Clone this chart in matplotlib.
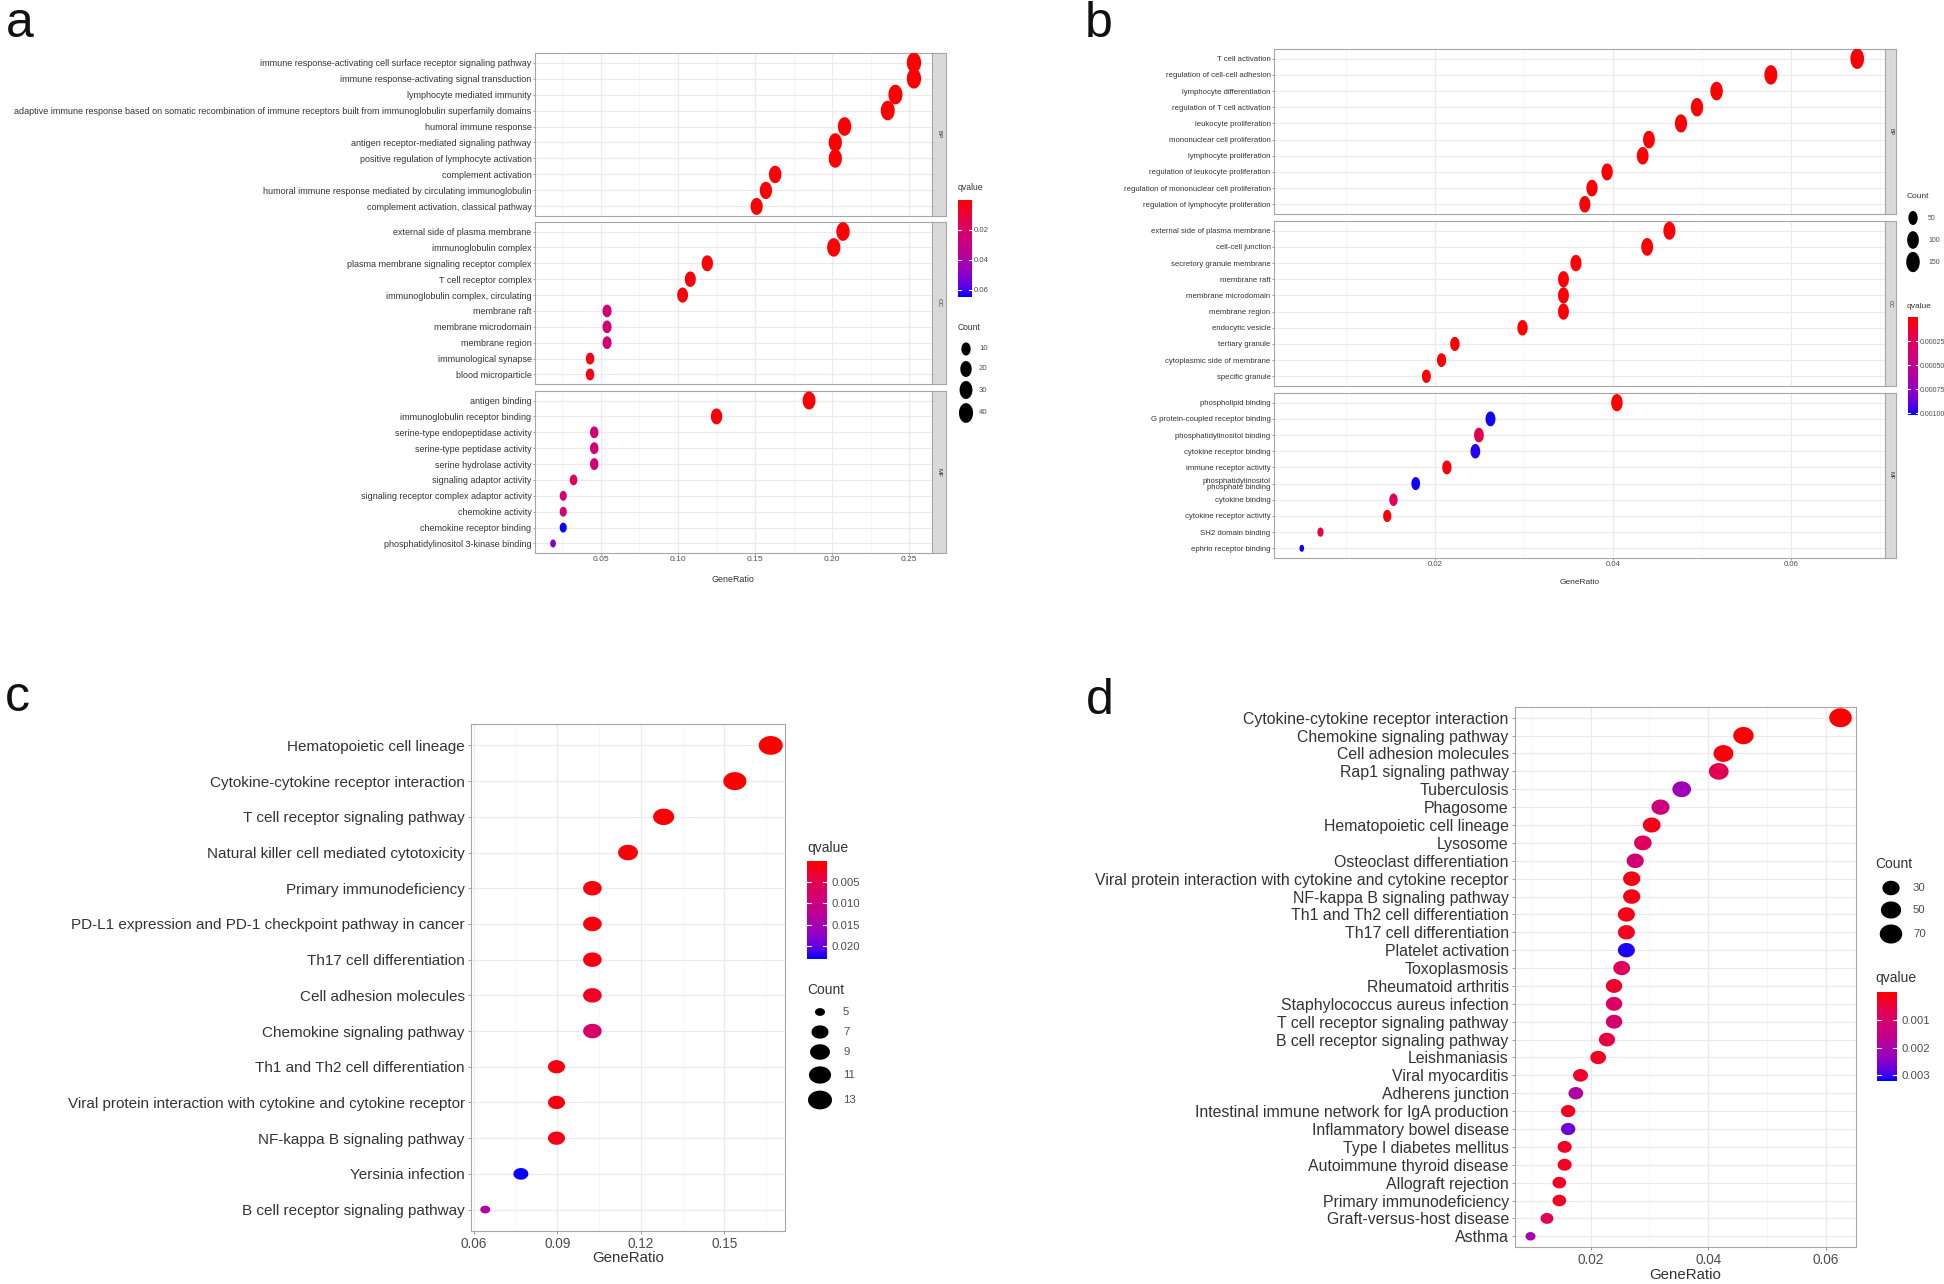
import numpy as np
import matplotlib
matplotlib.use("Agg")
import matplotlib.pyplot as plt
from matplotlib.path import Path
from matplotlib.colors import LinearSegmentedColormap, Normalize
from matplotlib.ticker import MultipleLocator

# ---------------- Panel a : GO enrichment (facets BP / CC / MF) ----------------
a_bp_terms = [
    "immune response-activating cell surface receptor signaling pathway",
    "immune response-activating signal transduction",
    "lymphocyte mediated immunity",
    "adaptive immune response based on somatic recombination of immune receptors built from immunoglobulin superfamily domains",
    "humoral immune response",
    "antigen receptor-mediated signaling pathway",
    "positive regulation of lymphocyte activation",
    "complement activation",
    "humoral immune response mediated by circulating immunoglobulin",
    "complement activation, classical pathway",
]
a_bp_ratio = [0.253, 0.253, 0.241, 0.236, 0.208, 0.202, 0.202, 0.163, 0.157, 0.151]
a_bp_count = [42, 42, 40, 39, 34, 33, 33, 27, 26, 25]
a_bp_q = [0.0005, 0.0005, 0.0005, 0.0005, 0.0008, 0.0008, 0.0008, 0.001, 0.001, 0.001]

a_cc_terms = [
    "external side of plasma membrane",
    "immunoglobulin complex",
    "plasma membrane signaling receptor complex",
    "T cell receptor complex",
    "immunoglobulin complex, circulating",
    "membrane raft",
    "membrane microdomain",
    "membrane region",
    "immunological synapse",
    "blood microparticle",
]
a_cc_ratio = [0.207, 0.201, 0.119, 0.108, 0.103, 0.054, 0.054, 0.054, 0.043, 0.043]
a_cc_count = [34, 33, 20, 18, 17, 9, 9, 9, 7, 7]
a_cc_q = [0.001, 0.001, 0.002, 0.002, 0.002, 0.024, 0.024, 0.024, 0.004, 0.004]

a_mf_terms = [
    "antigen binding",
    "immunoglobulin receptor binding",
    "serine-type endopeptidase activity",
    "serine-type peptidase activity",
    "serine hydrolase activity",
    "signaling adaptor activity",
    "signaling receptor complex adaptor activity",
    "chemokine activity",
    "chemokine receptor binding",
    "phosphatidylinositol 3-kinase binding",
]
a_mf_ratio = [0.185, 0.125, 0.0457, 0.0457, 0.0457, 0.0323, 0.0256, 0.0256, 0.0256, 0.019]
a_mf_count = [30, 20, 7, 7, 7, 5, 4, 4, 4, 3]
a_mf_q = [0.001, 0.002, 0.025, 0.025, 0.025, 0.016, 0.024, 0.024, 0.064, 0.052]

a_q_ticks = [0.02, 0.04, 0.06]
a_q_labels = ["0.02", "0.04", "0.06"]
a_count_breaks = [10, 20, 30, 40]
a_x_ticks = [0.05, 0.10, 0.15, 0.20, 0.25]
a_x_labels = ["0.05", "0.10", "0.15", "0.20", "0.25"]

# ---------------- Panel b : GO enrichment (facets BP / CC / MF) ----------------
b_bp_terms = [
    "T cell activation",
    "regulation of cell-cell adhesion",
    "lymphocyte differentiation",
    "regulation of T cell activation",
    "leukocyte proliferation",
    "mononuclear cell proliferation",
    "lymphocyte proliferation",
    "regulation of leukocyte proliferation",
    "regulation of mononuclear cell proliferation",
    "regulation of lymphocyte proliferation",
]
b_bp_ratio = [0.0674, 0.0577, 0.0516, 0.0494, 0.0476, 0.0440, 0.0433, 0.0393, 0.0376, 0.0368]
b_bp_count = [155, 133, 119, 114, 110, 101, 100, 90, 87, 85]
b_bp_q = [0.00001] * 10

b_cc_terms = [
    "external side of plasma membrane",
    "cell-cell junction",
    "secretory granule membrane",
    "membrane raft",
    "membrane microdomain",
    "membrane region",
    "endocytic vesicle",
    "tertiary granule",
    "cytoplasmic side of membrane",
    "specific granule",
]
b_cc_ratio = [0.0463, 0.0438, 0.0358, 0.0344, 0.0344, 0.0344, 0.0298, 0.0222, 0.0207, 0.0190]
b_cc_count = [108, 102, 83, 80, 80, 80, 69, 52, 48, 44]
b_cc_q = [0.00001] * 10

b_mf_terms = [
    "phospholipid binding",
    "G protein-coupled receptor binding",
    "phosphatidylinositol binding",
    "cytokine receptor binding",
    "immune receptor activity",
    "phosphatidylinositol\nphosphate binding",
    "cytokine binding",
    "cytokine receptor activity",
    "SH2 domain binding",
    "ephrin receptor binding",
]
b_mf_ratio = [0.0404, 0.0262, 0.0249, 0.0245, 0.0213, 0.0178, 0.0153, 0.0146, 0.0071, 0.0050]
b_mf_count = [94, 61, 58, 57, 50, 41, 36, 34, 16, 12]
b_mf_q = [0.00001, 0.00100, 0.00022, 0.00098, 0.00003, 0.00100, 0.00025, 0.00002, 0.00018, 0.00101]

b_q_ticks = [0.00025, 0.00050, 0.00075, 0.00100]
b_q_labels = ["0.00025", "0.00050", "0.00075", "0.00100"]
b_count_breaks = [50, 100, 150]
b_x_ticks = [0.02, 0.04, 0.06]
b_x_labels = ["0.02", "0.04", "0.06"]

# ---------------- Panel c : KEGG ----------------
c_terms = [
    "Hematopoietic cell lineage",
    "Cytokine-cytokine receptor interaction",
    "T cell receptor signaling pathway",
    "Natural killer cell mediated cytotoxicity",
    "Primary immunodeficiency",
    "PD-L1 expression and PD-1 checkpoint pathway in cancer",
    "Th17 cell differentiation",
    "Cell adhesion molecules",
    "Chemokine signaling pathway",
    "Th1 and Th2 cell differentiation",
    "Viral protein interaction with cytokine and cytokine receptor",
    "NF-kappa B signaling pathway",
    "Yersinia infection",
    "B cell receptor signaling pathway",
]
c_ratio = [0.1667, 0.1538, 0.1282, 0.1154, 0.1026, 0.1026, 0.1026, 0.1026, 0.1026,
           0.0897, 0.0897, 0.0897, 0.0769, 0.0641]
c_count = [13, 12, 10, 9, 8, 8, 8, 8, 8, 7, 7, 7, 6, 5]
c_q = [0.0002, 0.0002, 0.0005, 0.0008, 0.0010, 0.0010, 0.0012, 0.0025, 0.0075,
       0.0012, 0.0012, 0.0015, 0.0229, 0.0135]
c_q_ticks = [0.005, 0.010, 0.015, 0.020]
c_q_labels = ["0.005", "0.010", "0.015", "0.020"]
c_count_breaks = [5, 7, 9, 11, 13]
c_x_ticks = [0.06, 0.09, 0.12, 0.15]
c_x_labels = ["0.06", "0.09", "0.12", "0.15"]

# ---------------- Panel d : KEGG ----------------
d_terms = [
    "Cytokine-cytokine receptor interaction",
    "Chemokine signaling pathway",
    "Cell adhesion molecules",
    "Rap1 signaling pathway",
    "Tuberculosis",
    "Phagosome",
    "Hematopoietic cell lineage",
    "Lysosome",
    "Osteoclast differentiation",
    "Viral protein interaction with cytokine and cytokine receptor",
    "NF-kappa B signaling pathway",
    "Th1 and Th2 cell differentiation",
    "Th17 cell differentiation",
    "Platelet activation",
    "Toxoplasmosis",
    "Rheumatoid arthritis",
    "Staphylococcus aureus infection",
    "T cell receptor signaling pathway",
    "B cell receptor signaling pathway",
    "Leishmaniasis",
    "Viral myocarditis",
    "Adherens junction",
    "Intestinal immune network for IgA production",
    "Inflammatory bowel disease",
    "Type I diabetes mellitus",
    "Autoimmune thyroid disease",
    "Allograft rejection",
    "Primary immunodeficiency",
    "Graft-versus-host disease",
    "Asthma",
]
d_ratio = [0.0625, 0.0460, 0.0426, 0.0418, 0.0355, 0.0319, 0.0304, 0.0289, 0.0276, 0.0270,
           0.0270, 0.0261, 0.0261, 0.0261, 0.0253, 0.0240, 0.0240, 0.0240, 0.0228, 0.0213,
           0.0183, 0.0175, 0.0162, 0.0162, 0.0156, 0.0156, 0.0147, 0.0147, 0.0126, 0.0098]
d_count = [69, 51, 47, 46, 39, 35, 33, 32, 30, 30, 30, 29, 29, 29, 28, 26, 26, 26, 25, 23,
           20, 19, 18, 18, 17, 17, 16, 16, 14, 11]
d_q = [0.00001, 0.00005, 0.0001, 0.0007, 0.0022, 0.0013, 0.0002, 0.0008, 0.0012, 0.0002,
       0.0002, 0.0002, 0.0003, 0.0031, 0.0008, 0.0004, 0.0009, 0.0011, 0.0006, 0.0003,
       0.0004, 0.0019, 0.0003, 0.0027, 0.0003, 0.0003, 0.0003, 0.0003, 0.0008, 0.0021]
d_q_ticks = [0.001, 0.002, 0.003]
d_q_labels = ["0.001", "0.002", "0.003"]
d_count_breaks = [30, 50, 70]
d_x_ticks = [0.02, 0.04, 0.06]
d_x_labels = ["0.02", "0.04", "0.06"]

# ---------------- styling / helpers ----------------
W, H, DPI = 1944, 1284, 100
fig = plt.figure(figsize=(W / DPI, H / DPI), dpi=DPI)
fig.patch.set_facecolor("white")

SMALL = ["Liberation Sans", "DejaVu Sans"]
REG = ["Liberation Sans", "DejaVu Sans"]
TXT = "#333333"
TICKTXT = "#4D4D4D"
GRID = "#EBEBEB"
BORDER = "#A6A6A6"

cmap = LinearSegmentedColormap.from_list(
    "red_blue_lab",
    [(0.0, "#FF0000"), (0.25, "#E0005C"), (0.5, "#C2008E"),
     (0.75, "#9300C6"), (0.9, "#5800E8"), (1.0, "#0000FF")])


def px_axes(l, t, r, b):
    return fig.add_axes([l / W, 1 - b / H, (r - l) / W, (b - t) / H])


def ellipse(aspect):
    th = np.linspace(0, 2 * np.pi, 73)
    if aspect >= 1:
        v = np.column_stack([np.cos(th) / aspect, np.sin(th)])
    else:
        v = np.column_stack([np.cos(th), np.sin(th) * aspect])
    return Path(v, closed=True)


def size_fn(cmin, cmax, dmin, dmax):
    def f(c):
        c = np.asarray(c, float)
        frac = np.clip((c - cmin) / (cmax - cmin), 0, 1)
        d = dmin + (dmax - dmin) * np.sqrt(frac)
        return (d * 72.0 / DPI) ** 2
    return f


def expand(vals):
    lo, hi = min(vals), max(vals)
    pad = 0.05 * (hi - lo)
    return lo - pad, hi + pad


def dot_axes(ax, terms, ratio, count, q, norm, xlim, xticks, xlabels, marker, sfun,
             yfs, xfs, fam, show_x, tlen, tpad):
    n = len(terms)
    ypos = np.arange(n, 0, -1)
    ax.scatter(ratio, ypos, s=sfun(count), c=q, cmap=cmap, norm=norm, marker=marker,
               linewidths=0, zorder=3)
    ax.set_xlim(*xlim)
    ax.set_ylim(0.4, n + 0.6)
    ax.set_yticks(ypos)
    ax.set_yticklabels(terms, fontsize=yfs, family=fam, color=TXT, linespacing=0.8)
    ax.set_xticks(xticks)
    ax.xaxis.set_minor_locator(MultipleLocator((xticks[1] - xticks[0]) / 2))
    ax.grid(True, which="major", color=GRID, lw=0.9)
    ax.grid(True, which="minor", axis="x", color="#F3F3F3", lw=0.5)
    ax.set_axisbelow(True)
    if show_x:
        ax.set_xticklabels(xlabels, fontsize=xfs, family=fam, color=TICKTXT)
    else:
        ax.set_xticklabels([])
    ax.tick_params(which="major", length=tlen, width=0.6, color="#8C8C8C", pad=tpad)
    ax.tick_params(which="minor", length=0)
    if not show_x:
        ax.tick_params(axis="x", length=0)
    for sp in ax.spines.values():
        sp.set_color(BORDER)
        sp.set_linewidth(0.8)


def strip(l, t, r, b, label, fs):
    ax = px_axes(l, t, r, b)
    ax.set_facecolor("#D9D9D9")
    ax.set_xticks([])
    ax.set_yticks([])
    for sp in ax.spines.values():
        sp.set_color(BORDER)
        sp.set_linewidth(0.8)
    ax.text(0.5, 0.5, label, rotation=-90, ha="center", va="center", fontsize=fs,
            color=TXT, family=SMALL, transform=ax.transAxes)


def colorbar(l, t, r, b, vmin, vmax, ticks, labels, fs, fam, pad):
    ax = px_axes(l, t, r, b)
    grad = np.linspace(vmin, vmax, 256)[:, None]
    ax.imshow(grad, aspect="auto", cmap=cmap, norm=Normalize(vmin, vmax),
              extent=[0, 1, vmax, vmin], origin="upper", interpolation="bilinear")
    ax.set_xlim(0, 1)
    ax.set_ylim(vmax, vmin)
    ax.set_xticks([])
    ax.yaxis.tick_right()
    ax.set_yticks(ticks)
    ax.set_yticklabels(labels, fontsize=fs, family=fam, color=TICKTXT)
    ax.tick_params(axis="y", length=0, pad=pad)
    for tv in ticks:
        ax.plot([0, 0.2], [tv, tv], color="white", lw=0.8)
        ax.plot([0.8, 1], [tv, tv], color="white", lw=0.8)
    for sp in ax.spines.values():
        sp.set_visible(False)


# ---------------- Panel a ----------------
a_norm = Normalize(0.0, 0.065)
a_marker = ellipse(1.4)
a_all_counts = a_bp_count + a_cc_count + a_mf_count
a_sfun = size_fn(min(a_all_counts), max(a_all_counts), 8, 20)
a_xlim = expand(a_bp_ratio + a_cc_ratio + a_mf_ratio)
a_facets = [(a_bp_terms, a_bp_ratio, a_bp_count, a_bp_q, 53, 216, "BP"),
            (a_cc_terms, a_cc_ratio, a_cc_count, a_cc_q, 222, 384, "CC"),
            (a_mf_terms, a_mf_ratio, a_mf_count, a_mf_q, 391, 553, "MF")]
for terms, ratio, count, q, t, b, lab in a_facets:
    ax = px_axes(535, t, 932, b)
    dot_axes(ax, terms, ratio, count, q, a_norm, a_xlim, a_x_ticks, a_x_labels, a_marker,
             a_sfun, 6.5, 6.0, SMALL, lab == "MF", 1.5, 1.0)
    strip(932, t, 946, b, lab, 4.5)
colorbar(958, 200, 972, 297, 0.0, 0.065, a_q_ticks, a_q_labels, 5.6, SMALL, 1.5)

# ---------------- Panel b ----------------
b_norm = Normalize(0.0, 0.00102)
b_marker = ellipse(1.5)
b_all_counts = b_bp_count + b_cc_count + b_mf_count
b_sfun = size_fn(min(b_all_counts), max(b_all_counts), 7, 20.5)
b_xlim = expand(b_bp_ratio + b_cc_ratio + b_mf_ratio)
b_facets = [(b_bp_terms, b_bp_ratio, b_bp_count, b_bp_q, 49, 214, "BP"),
            (b_cc_terms, b_cc_ratio, b_cc_count, b_cc_q, 221, 386, "CC"),
            (b_mf_terms, b_mf_ratio, b_mf_count, b_mf_q, 393, 558, "MF")]
for terms, ratio, count, q, t, b, lab in b_facets:
    ax = px_axes(1274, t, 1885, b)
    dot_axes(ax, terms, ratio, count, q, b_norm, b_xlim, b_x_ticks, b_x_labels, b_marker,
             b_sfun, 5.6, 5.6, SMALL, lab == "MF", 1.5, 1.0)
    strip(1885, t, 1896, b, lab, 4.0)
colorbar(1908, 317, 1918, 415, 0.0, 0.00102, b_q_ticks, b_q_labels, 5.0, SMALL, 1.5)

# ---------------- Panel c ----------------
c_norm = Normalize(0.0001, 0.023)
c_marker = ellipse(1 / 1.28)
c_sfun = size_fn(min(c_count), max(c_count), 10, 24)
ax_c = px_axes(471, 724, 785, 1231)
dot_axes(ax_c, c_terms, c_ratio, c_count, c_q, c_norm, expand(c_ratio), c_x_ticks, c_x_labels,
         c_marker, c_sfun, 11.0, 9.8, REG, True, 2.5, 2.0)
colorbar(807, 861, 827, 959, 0.0001, 0.023, c_q_ticks, c_q_labels, 8.2, REG, 3.0)

# ---------------- Panel d ----------------
d_norm = Normalize(0.0, 0.0032)
d_marker = ellipse(1 / 1.18)
d_sfun = size_fn(min(d_count), max(d_count), 10, 22.5)
ax_d = px_axes(1515, 707, 1856, 1247)
dot_axes(ax_d, d_terms, d_ratio, d_count, d_q, d_norm, expand(d_ratio), d_x_ticks, d_x_labels,
         d_marker, d_sfun, 11.4, 9.8, REG, True, 2.5, 2.0)
colorbar(1877, 992, 1897, 1081, 0.0, 0.0032, d_q_ticks, d_q_labels, 8.2, REG, 3.0)

# ---------------- overlay: titles, legends, panel letters ----------------
ov = fig.add_axes([0, 0, 1, 1])
ov.set_xlim(0, W)
ov.set_ylim(H, 0)
ov.axis("off")
ov.patch.set_alpha(0)

# panel letters
for x, y, s in [(6, 37, "a"), (1085, 37, "b"), (5, 711, "c"), (1086, 714, "d")]:
    ov.text(x, y, s, fontsize=36, family=REG, color="#111111", ha="left", va="baseline")

# axis titles
ov.text(733, 580, "GeneRatio", fontsize=6.4, family=SMALL, color=TXT, ha="center", va="center")
ov.text(1580, 583, "GeneRatio", fontsize=6.0, family=SMALL, color=TXT, ha="center", va="center")
ov.text(628, 1258, "GeneRatio", fontsize=10.8, family=REG, color=TXT, ha="center", va="center")
ov.text(1685, 1275, "GeneRatio", fontsize=10.8, family=REG, color=TXT, ha="center", va="center")

# legend titles
ov.text(958, 188, "qvalue", fontsize=6.2, family=SMALL, color=TXT, ha="left", va="center")
ov.text(958, 328, "Count", fontsize=6.2, family=SMALL, color=TXT, ha="left", va="center")
ov.text(1907, 197, "Count", fontsize=6.0, family=SMALL, color=TXT, ha="left", va="center")
ov.text(1907, 306, "qvalue", fontsize=6.0, family=SMALL, color=TXT, ha="left", va="center")
ov.text(807, 848, "qvalue", fontsize=10, family=REG, color=TXT, ha="left", va="center")
ov.text(807, 990, "Count", fontsize=10, family=REG, color=TXT, ha="left", va="center")
ov.text(1875, 864, "Count", fontsize=10, family=REG, color=TXT, ha="left", va="center")
ov.text(1875, 978, "qvalue", fontsize=10, family=REG, color=TXT, ha="left", va="center")

# count legends
legend_specs = [
    (a_count_breaks, a_sfun, a_marker, 966, [349, 369, 390, 413], 979, 5.6, SMALL),
    (b_count_breaks, b_sfun, b_marker, 1913, [218, 240, 262], 1928, 5.0, SMALL),
    (c_count_breaks, c_sfun, c_marker, 820, [1012, 1032, 1052, 1075, 1100], 843, 8.2, REG),
    (d_count_breaks, d_sfun, d_marker, 1891, [888, 910, 934], 1913, 8.2, REG),
]
for breaks, sfun, marker, x, ys, lx, fs, fam in legend_specs:
    ov.scatter([x] * len(breaks), ys, s=sfun(breaks), c="black", marker=marker, linewidths=0)
    for br, yy in zip(breaks, ys):
        ov.text(lx, yy, str(br), fontsize=fs, family=fam, color=TICKTXT, ha="left", va="center")

fig.savefig("out.png", dpi=DPI, facecolor="white")
